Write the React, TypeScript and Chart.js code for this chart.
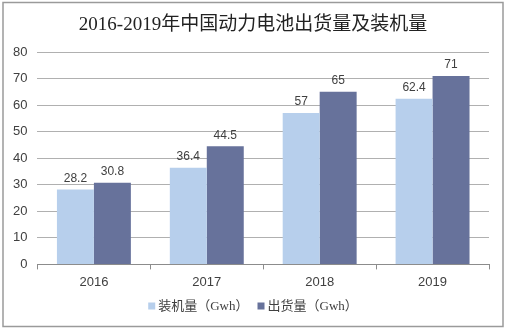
import React, { useEffect, useRef } from "react";
import { Chart, registerables } from "chart.js";

Chart.register(...registerables);

const categories = ["2016", "2017", "2018", "2019"];
const installed = [28.2, 36.4, 57, 62.4];
const shipped = [30.8, 44.5, 65, 71];
const seriesNames = ["装机量（Gwh）", "出货量（Gwh）"];
const titleText = "2016-2019年中国动力电池出货量及装机量";
const yTicks = [0, 10, 20, 30, 40, 50, 60, 70, 80];
const colors = ["#b7cfec", "#67729b"];

const serif = "'Liberation Serif', 'Noto Sans CJK SC', serif";

const frame = {
  id: "frame",
  beforeDraw(chart: any) {
    const ctx = chart.ctx;
    ctx.save();
    ctx.fillStyle = "#ffffff";
    ctx.fillRect(0, 0, chart.width, chart.height);
    ctx.strokeStyle = "#9a9a9a";
    ctx.lineWidth = 1.5;
    ctx.strokeRect(3, 2.5, chart.width - 6, chart.height - 5);
    ctx.restore();
  },
};

const titleAndLegend = {
  id: "titleAndLegend",
  afterDraw(chart: any) {
    const ctx = chart.ctx;
    ctx.save();
    ctx.fillStyle = "#222222";
    ctx.font = `19px ${serif}`;
    ctx.textAlign = "center";
    ctx.textBaseline = "middle";
    ctx.fillText(titleText, chart.width / 2, 25);

    ctx.font = `13px ${serif}`;
    ctx.textAlign = "left";
    const box = 7;
    const gap = 3;
    const itemGap = 9;
    const widths = chart.data.datasets.map((ds: any) => box + gap + ctx.measureText(ds.label).width);
    const total = widths.reduce((a: number, b: number) => a + b, 0) + itemGap * (widths.length - 1);
    let x = 253 - total / 2;
    const y = 306;
    chart.data.datasets.forEach((ds: any, i: number) => {
      ctx.fillStyle = ds.backgroundColor;
      ctx.fillRect(x, y - box / 2, box, box);
      ctx.fillStyle = "#404040";
      ctx.fillText(ds.label, x + box + gap, y + 1);
      x += widths[i] + itemGap;
    });
    ctx.restore();
  },
};

const valueLabels = {
  id: "valueLabels",
  afterDatasetsDraw(chart: any) {
    const ctx = chart.ctx;
    ctx.save();
    ctx.font = "12px 'Liberation Sans', Arial, sans-serif";
    ctx.fillStyle = "#404040";
    ctx.textAlign = "center";
    ctx.textBaseline = "bottom";
    chart.data.datasets.forEach((ds: any, i: number) => {
      const meta = chart.getDatasetMeta(i);
      meta.data.forEach((bar: any, j: number) => {
        ctx.fillText(String(ds.data[j]), bar.x, bar.y - 5);
      });
    });
    ctx.restore();
  },
};

export default function App() {
  const ref = useRef<HTMLCanvasElement>(null);
  useEffect(() => {
    document.body.style.margin = "0";
    const chart = new Chart(ref.current!, {
      type: "bar",
      data: {
        labels: categories,
        datasets: [
          { label: seriesNames[0], data: installed, backgroundColor: colors[0] },
          { label: seriesNames[1], data: shipped, backgroundColor: colors[1] },
        ],
      },
      options: {
        animation: false,
        responsive: false,
        layout: { padding: { left: 3, right: 17, top: 52, bottom: 34 } },
        datasets: { bar: { categoryPercentage: 0.655, barPercentage: 1 } } as any,
        plugins: {
          title: { display: false },
          legend: { display: false },
          tooltip: { enabled: false },
        },
        scales: {
          x: {
            grid: { offset: true, drawOnChartArea: false, drawTicks: true, tickLength: 5, color: "#8c8c8c" },
            border: { color: "#8c8c8c" },
            ticks: { color: "#404040", font: { size: 13, family: "'Liberation Sans', Arial, sans-serif" }, padding: 5 },
          },
          y: {
            min: 0,
            max: 80,
            afterBuildTicks: (axis: any) => {
              axis.ticks = yTicks.map((v) => ({ value: v }));
            },
            grid: { color: "#b0b0b0", drawTicks: false },
            border: { display: false },
            ticks: { color: "#404040", font: { size: 13, family: "'Liberation Sans', Arial, sans-serif" }, padding: 10 },
          },
        },
      },
      plugins: [frame, valueLabels, titleAndLegend],
    });
    return () => chart.destroy();
  }, []);
  return <canvas ref={ref} width={506} height={329} style={{ display: "block" }} />;
}
